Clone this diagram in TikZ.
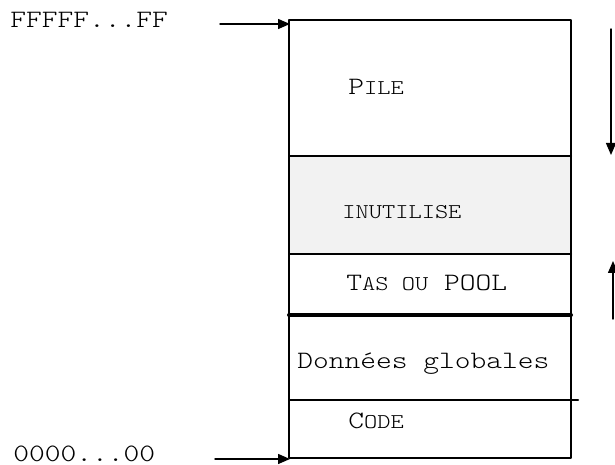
\documentclass[tikz,border=0pt]{standalone}
\usepackage{tkz-euclide}
\usepackage{tikz}
\usepackage{fontspec}
\usetikzlibrary{arrows.meta}
\setmonofont{lmmonolt10-regular}[Extension=.otf, FakeStretch=1.2]
\newcommand{\petit}[1]{{\fontsize{10.5}{13}\selectfont #1}}
\tikzset{zone/.style={anchor=base west, inner sep=0pt},
         fleche/.style={line width=0.7pt, -{Triangle[length=6pt,width=5pt]}}}

\begin{document}
\begin{tikzpicture}[x=0.5pt, y=0.5pt, font=\ttfamily\fontsize{12.5}{15}\selectfont]
    \useasboundingbox (0,0) rectangle (615,465);
    \tkzDefPoints{289/7/A,571/7/B,571/445/C,289/445/D}
    \tkzDefPoints{289/309/E,571/309/F,289/211/G,571/211/H}
    \tkzDefPoints{289/150/I,571/150/J,289/65/K,578/65/L}
    \tkzDefPoints{220/441/M,290/441/N,215/6/P,290/6/Q}
    \tkzDefPoints{611/436/R,611/310/S,613/146/T,613/204/U}
    \fill[black!5] (G) rectangle (F); %INUTILISE
    \tkzDrawPolygon[line width=1pt](A,B,C,D)
    \tkzDrawSegments[line width=1pt](E,F G,H K,L)
    \tkzDrawSegments[line width=2pt](I,J)
    \tkzDrawSegments[fleche](M,N P,Q R,S T,U)
    \node[zone] (haut) at (10,437) {FFFFF...FF};
    \node[zone] (bas) at (13,3) {0000...00};
    \node[zone] (pile) at (348,370) {P\petit{ILE}};
    \node[zone] (inutile) at (342,246) {\petit{INUTILISE}};
    \node[zone] (tas) at (346,174) {T\petit{AS OU} POOL};
    \node[zone] (donnees) at (297,96) {Données globales};
    \node[zone] (code) at (348,36) {C\petit{ODE}};
\end{tikzpicture}
\end{document}
